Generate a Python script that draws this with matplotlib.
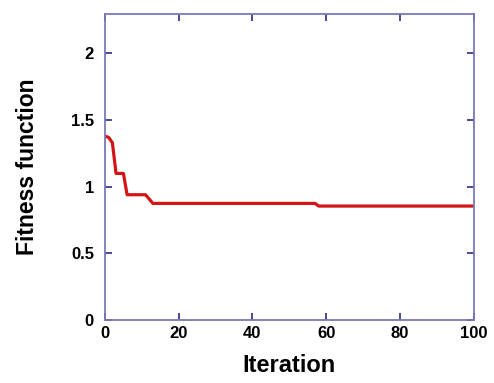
import matplotlib
matplotlib.use("Agg")
import matplotlib.pyplot as plt

iterations = [0, 1, 2, 3, 5, 6, 11, 13, 57, 58, 100]
fitness = [1.38, 1.37, 1.33, 1.10, 1.10, 0.94, 0.94, 0.875, 0.875, 0.855, 0.855]
x_ticks = [0, 20, 40, 60, 80, 100]
y_ticks = [0, 0.5, 1, 1.5, 2]
y_tick_labels = ["0", "0.5", "1", "1.5", "2"]

plt.rcParams['font.family'] = ['Liberation Sans', 'DejaVu Sans']

fig = plt.figure(figsize=(4.94, 3.83), dpi=100)
ax = fig.add_axes([105/494, 1 - 320/383, (473.5-105)/494, (320-13.5)/383])

ax.plot(iterations, fitness, color='#d41515', linewidth=2.3, solid_joinstyle='round')

ax.set_xlim(0, 100)
ax.set_ylim(0, 2.3)
ax.set_xticks(x_ticks)
ax.set_yticks(y_ticks)
ax.set_yticklabels(y_tick_labels)

for s in ax.spines.values():
    s.set_color('#7a78b8')
    s.set_linewidth(1.3)

ax.tick_params(axis='both', direction='in', length=5, width=1.2, color='#2a2a80',
               labelsize=12)
ax.tick_params(axis='x', top=True, pad=4)
ax.tick_params(axis='y', right=True, pad=8)
for lbl in ax.get_xticklabels() + ax.get_yticklabels():
    lbl.set_fontweight('bold')

ax.set_xlabel('Iteration', fontsize=17, fontweight='bold', labelpad=10)
ax.set_ylabel('Fitness function', fontsize=16.5, fontweight='bold', labelpad=23)

fig.savefig('out.png', dpi=100)
